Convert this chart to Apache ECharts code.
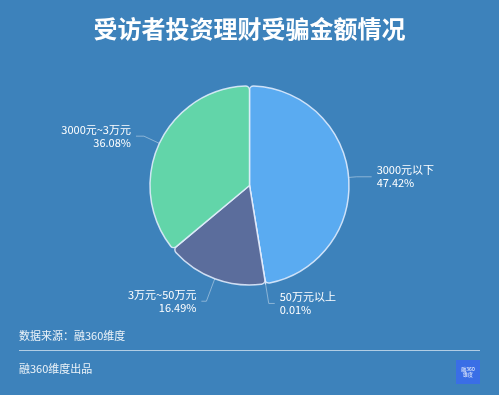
<!DOCTYPE html>
<html>
<head>
<meta charset="utf-8">
<script src="https://cdn.jsdelivr.net/npm/echarts@6/dist/echarts.min.js"></script>
<style>html,body{margin:0;padding:0;background:#3d82bb;}#c{width:499px;height:395px;}</style>
</head>
<body>
<div id="c"></div>
<script>
var categories = ['3000元以下', '50万元以上', '3万元~50万元', '3000元~3万元'];
var values = [47.42, 0.01, 16.49, 36.08];
var colors = ['#5aabf1', '#5aabf1', '#5b6d9c', '#62d5a9'];
var lineLen = [8, 20, 24, 17];
var lineLen2 = [15, 6, 5, 8];

var chart = echarts.init(document.getElementById('c'));
var font = '"Noto Sans CJK SC", "Noto Sans", sans-serif';
chart.setOption({
  backgroundColor: '#3d82bb',
  animation: false,
  title: {
    text: '受访者投资理财受骗金额情况',
    left: 'center',
    top: 12,
    textStyle: { color: '#ffffff', fontSize: 24, fontWeight: 'bold', fontFamily: font }
  },
  graphic: [
    { type: 'text', left: 19, top: 330, style: { text: '数据来源：融360维度', fill: 'rgba(255,255,255,0.9)', font: '11px ' + font } },
    { type: 'line', shape: { x1: 19, y1: 350.5, x2: 480, y2: 350.5 }, style: { stroke: 'rgba(255,255,255,0.6)', lineWidth: 1 } },
    { type: 'text', left: 19, top: 363, style: { text: '融360维度出品', fill: 'rgba(255,255,255,0.9)', font: '11px ' + font } },
    { type: 'rect', shape: { x: 456, y: 360, width: 24, height: 24 }, style: { fill: '#3a6ee6' } },
    { type: 'text', x: 468, y: 372, style: { text: '融360\n维度', fill: '#ffffff', font: '5px ' + font, align: 'center', verticalAlign: 'middle' } }
  ],
  series: [{
    type: 'pie',
    center: [249.5, 185.5],
    radius: [0, 99.5],
    startAngle: 90,
    clockwise: true,
    avoidLabelOverlap: false,
    itemStyle: { borderColor: 'rgba(230,240,255,0.85)', borderWidth: 1.5, borderRadius: 4 },
    label: {
      color: '#ffffff',
      fontSize: 11,
      lineHeight: 13,
      fontFamily: font,
      formatter: '{b}\n{d}%'
    },
    labelLine: { lineStyle: { color: 'rgba(255,255,255,0.4)', width: 1 } },
    data: categories.map(function (c, i) {
      return { name: c, value: values[i], itemStyle: { color: colors[i] },
        labelLine: { length: lineLen[i], length2: lineLen2[i] } };
    })
  }]
});
</script>
</body>
</html>
